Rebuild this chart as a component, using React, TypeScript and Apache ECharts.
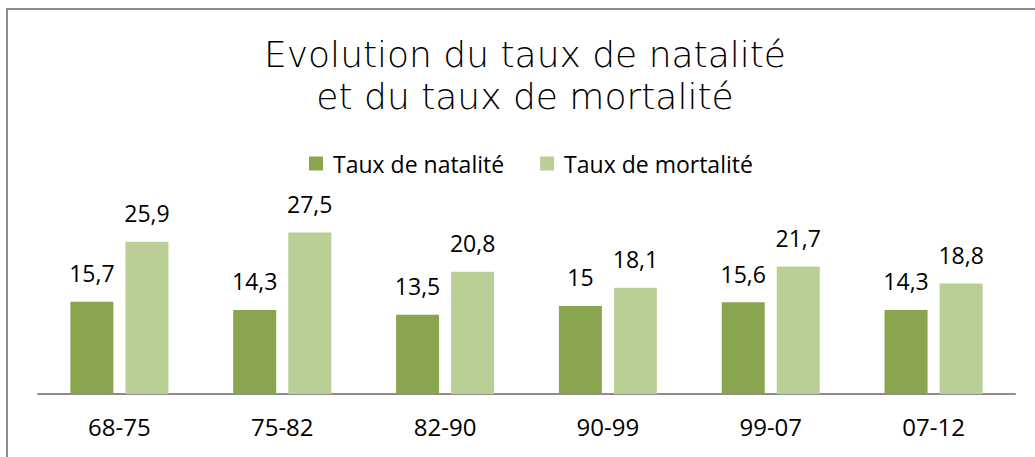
import React, { useEffect, useRef } from "react";
import * as echarts from "echarts";

const categories = ["68-75", "75-82", "82-90", "90-99", "99-07", "07-12"];
const natalite = [15.7, 14.3, 13.5, 15, 15.6, 14.3];
const mortalite = [25.9, 27.5, 20.8, 18.1, 21.7, 18.8];
const seriesNames = ["Taux de natalité", "Taux de mortalité"];
const titleLines = ["Evolution du taux de natalité", "et du taux de mortalité"];

const fmt = (v: number) => String(v).replace(".", ",");

export default function App() {
  const ref = useRef<HTMLDivElement>(null);
  useEffect(() => {
    if (!ref.current) return;
    const chart = echarts.init(ref.current, null, { renderer: "svg" });
    const labelFont = "'Open Sans', 'Noto Sans', sans-serif";
    const valueLabel = {
      show: true,
      position: "top",
      distance: 17,
      formatter: (p: any) => fmt(p.value),
      fontFamily: labelFont,
      fontSize: 23,
      color: "#000",
    };
    const titleStyle = {
      fontFamily: "'DejaVu Sans', sans-serif",
      fontWeight: 200,
      fontSize: 36,
      lineHeight: 41,
      color: "#000000",
    };
    chart.setOption({
      animation: false,
      backgroundColor: "#ffffff",
      title: titleLines.map((t, i) => ({
        text: t,
        left: 525,
        textAlign: "center",
        top: 34 + i * 42,
        padding: 0,
        textStyle: titleStyle,
      })),
      legend: {
        top: 152,
        left: 309,
        padding: 0,
        itemWidth: 14,
        itemHeight: 14,
        itemGap: 36,
        icon: "rect",
        textStyle: {
          fontFamily: labelFont,
          fontSize: 23,
          color: "#000",
          padding: [0, 0, 0, 5],
        },
        data: seriesNames,
      },
      graphic: [
        {
          type: "rect",
          shape: { x: 7, y: 9, width: 1100, height: 500 },
          style: { fill: "none", stroke: "#8c8c8c", lineWidth: 2 },
          silent: true,
        },
      ],
      grid: { left: 38, right: 20, top: 159, bottom: 63 },
      xAxis: {
        type: "category",
        data: categories,
        axisLine: { lineStyle: { color: "#8c8c8c", width: 2 } },
        axisTick: { show: false },
        axisLabel: {
          fontFamily: labelFont,
          fontSize: 24,
          color: "#000",
          margin: 20,
        },
      },
      yAxis: {
        type: "value",
        min: 0,
        max: 40,
        show: false,
        splitLine: { show: false },
      },
      series: [
        {
          name: seriesNames[0],
          type: "bar",
          data: natalite,
          barWidth: 43,
          barGap: "28%",
          itemStyle: { color: "#89a54e" },
          label: valueLabel,
        },
        {
          name: seriesNames[1],
          type: "bar",
          data: mortalite,
          barWidth: 43,
          itemStyle: { color: "#b9cf96" },
          label: valueLabel,
        },
      ],
    });
    return () => chart.dispose();
  }, []);
  return (
    <div
      ref={ref}
      style={{ position: "absolute", left: 0, top: 0, width: 1035, height: 457 }}
    />
  );
}
